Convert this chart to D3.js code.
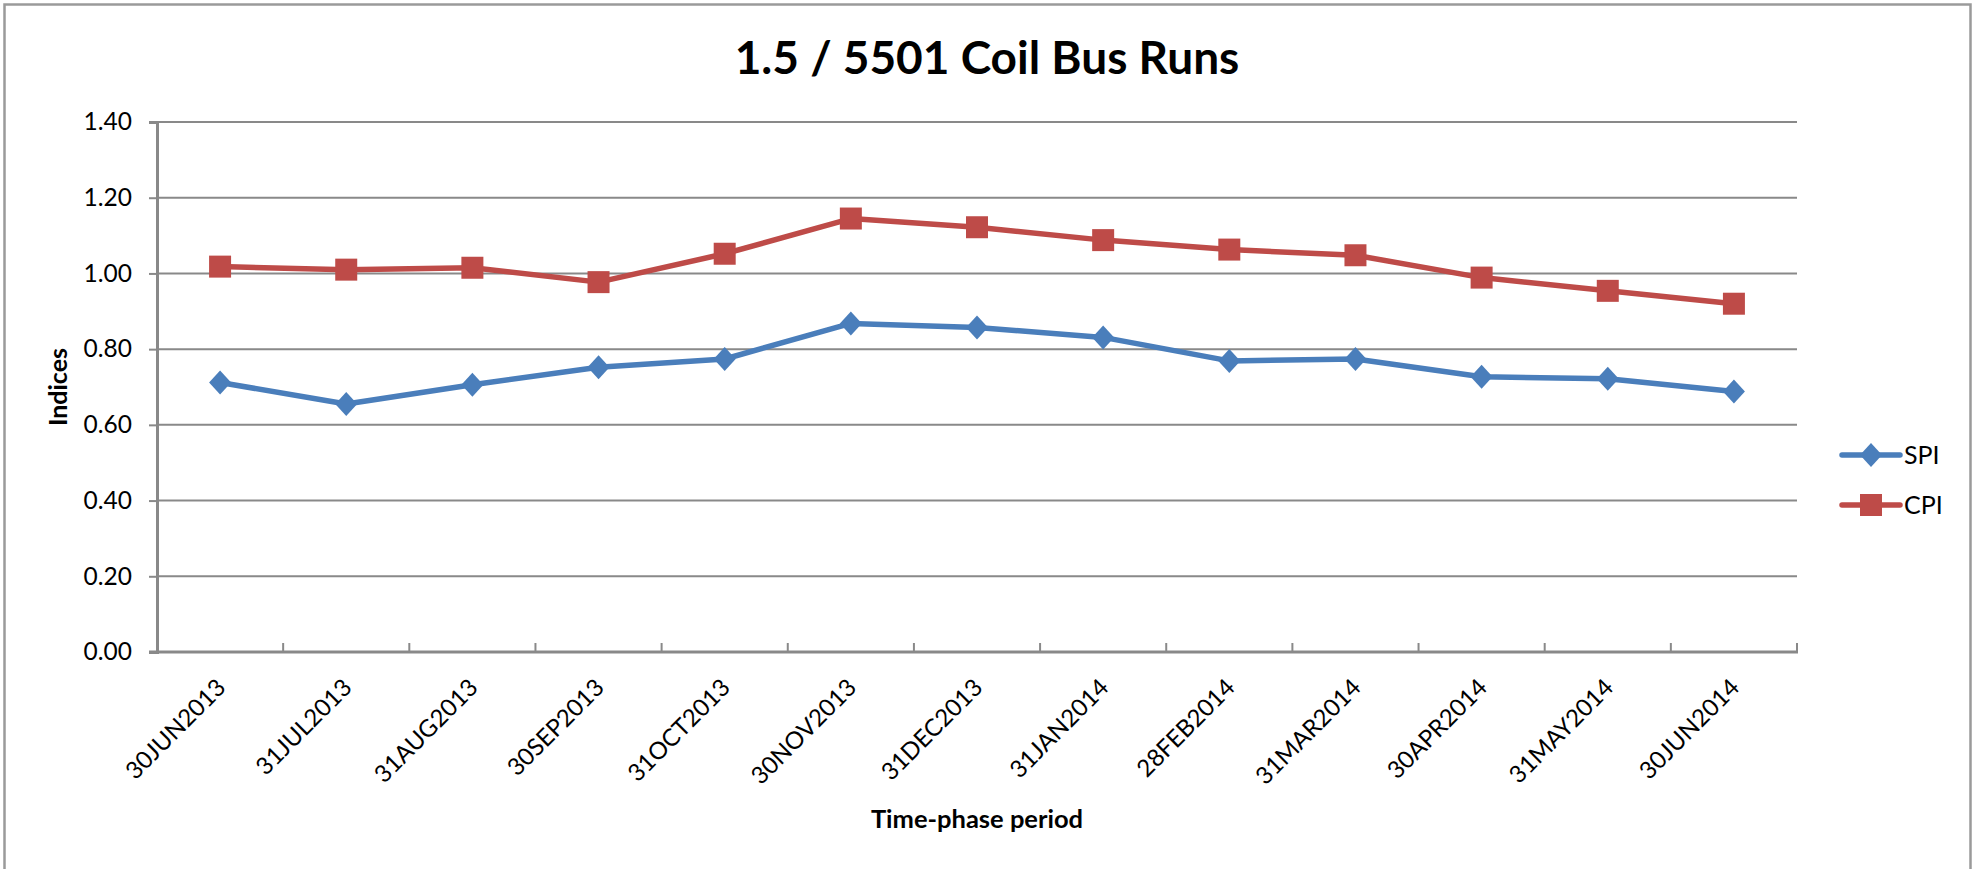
<!DOCTYPE html>
<html>
<head>
<meta charset="utf-8">
<script src="https://cdn.jsdelivr.net/npm/d3@7"></script>
<style>
  html, body { margin: 0; padding: 0; background: #fff; }
  svg { display: block; font-family: Lato, "Open Sans", sans-serif; }
</style>
</head>
<body>
<svg id="chart" width="1973" height="869"></svg>
<script>
// Reporting periods (month-end dates)
const periods = ["30JUN2013", "31JUL2013", "31AUG2013", "30SEP2013", "31OCT2013", "30NOV2013",
  "31DEC2013", "31JAN2014", "28FEB2014", "31MAR2014", "30APR2014", "31MAY2014", "30JUN2014"];

// Schedule Performance Index
const spiValues = [0.712, 0.655, 0.706, 0.752, 0.774, 0.868, 0.857, 0.831, 0.769, 0.774, 0.727, 0.722, 0.688];

// Cost Performance Index
const cpiValues = [1.018, 1.010, 1.015, 0.977, 1.052, 1.145, 1.122, 1.088, 1.063, 1.048, 0.989, 0.954, 0.920];

// Y axis ticks
const yTicks = [0, 0.2, 0.4, 0.6, 0.8, 1.0, 1.2, 1.4];

const seriesNames = ["SPI", "CPI"];

const svg = d3.select("#chart");
const plot = { left: 157, right: 1797, top: 122, bottom: 652 };
const gridColor = "#898989";
const colors = { SPI: "#4a7ebb", CPI: "#be4b48" };

// outer chart frame
svg.append("rect")
  .attr("x", 4.5).attr("y", 4.5)
  .attr("width", 1966).attr("height", 920)
  .attr("fill", "#fff")
  .attr("stroke", "#9a9a9a").attr("stroke-width", 2.5);

const x = d3.scaleBand().domain(periods).range([plot.left, plot.right]).padding(0);
const y = d3.scaleLinear().domain([0, 1.4]).range([plot.bottom, plot.top]);
const cx = d => x(d) + x.bandwidth() / 2;

// horizontal gridlines
svg.append("g")
  .selectAll("line")
  .data(yTicks.filter(t => t > 0))
  .join("line")
  .attr("x1", plot.left).attr("x2", plot.right)
  .attr("y1", d => y(d)).attr("y2", d => y(d))
  .attr("stroke", gridColor).attr("stroke-width", 2);

// y axis
const yAxis = svg.append("g")
  .attr("transform", `translate(${plot.left},0)`)
  .call(d3.axisLeft(y).tickValues(yTicks).tickFormat(d3.format(".2f")).tickSize(8).tickPadding(17));
yAxis.select(".domain").attr("stroke", gridColor).attr("stroke-width", 3);
yAxis.selectAll(".tick line").attr("stroke", gridColor).attr("stroke-width", 2);
yAxis.selectAll(".tick text")
  .attr("font-size", 24.5).attr("fill", "#000")
  .style("font-family", "Lato, sans-serif");

// x axis: ticks sit between categories, pointing inward
const boundaries = periods.map(p => x(p)).concat([plot.right]);
const xAxis = svg.append("g");
xAxis.selectAll("line.tick")
  .data(boundaries)
  .join("line")
  .attr("class", "tick")
  .attr("x1", d => d).attr("x2", d => d)
  .attr("y1", plot.bottom).attr("y2", plot.bottom - 9)
  .attr("stroke", gridColor).attr("stroke-width", 2);
xAxis.append("line")
  .attr("x1", plot.left - 8).attr("x2", plot.right + 1)
  .attr("y1", plot.bottom).attr("y2", plot.bottom)
  .attr("stroke", gridColor).attr("stroke-width", 3);

xAxis.selectAll("text")
  .data(periods)
  .join("text")
  .attr("transform", d => `translate(${cx(d) + 7},${plot.bottom + 37}) rotate(-45)`)
  .attr("text-anchor", "end")
  .attr("font-size", 24)
  .attr("fill", "#000")
  .text(d => d);

// series lines and markers
const series = [
  { name: "SPI", values: spiValues },
  { name: "CPI", values: cpiValues }
];

const line = d3.line().x(d => cx(d.p)).y(d => y(d.v));

function markerPath(s) {
  if (s.name === "SPI") {
    // diamond marker
    return "M0,-12L11,0L0,12L-11,0Z";
  }
  // square marker
  return "M-11,-11H11V11H-11Z";
}

series.forEach(s => {
  const pts = periods.map((p, i) => ({ p, v: s.values[i] }));
  svg.append("path")
    .datum(pts)
    .attr("fill", "none")
    .attr("stroke", colors[s.name])
    .attr("stroke-width", 5.5)
    .attr("stroke-linejoin", "round")
    .attr("stroke-linecap", "round")
    .attr("d", line);
  svg.append("g")
    .selectAll("path")
    .data(pts)
    .join("path")
    .attr("transform", d => `translate(${cx(d.p)},${y(d.v)})`)
    .attr("d", markerPath(s))
    .attr("fill", colors[s.name]);
});

// title
svg.append("text")
  .attr("x", 987).attr("y", 74)
  .attr("text-anchor", "middle")
  .attr("font-size", 46).attr("font-weight", "bold")
  .attr("fill", "#000")
  .text("1.5 / 5501 Coil Bus Runs");

// axis titles
svg.append("text")
  .attr("transform", "translate(67,387) rotate(-90)")
  .attr("text-anchor", "middle")
  .attr("font-size", 25).attr("font-weight", "bold")
  .attr("fill", "#000")
  .text("Indices");

svg.append("text")
  .attr("x", 977).attr("y", 828)
  .attr("text-anchor", "middle")
  .attr("font-size", 25.5).attr("font-weight", "bold")
  .attr("fill", "#000")
  .text("Time-phase period");

// legend
const legend = svg.append("g");
const legendY = { SPI: 455, CPI: 505 };
series.forEach(s => {
  const g = legend.append("g").attr("transform", `translate(0,${legendY[s.name]})`);
  g.append("line")
    .attr("x1", 1842).attr("x2", 1900)
    .attr("stroke", colors[s.name]).attr("stroke-width", 5.5)
    .attr("stroke-linecap", "round");
  g.append("path")
    .attr("transform", "translate(1871,0)")
    .attr("d", markerPath(s))
    .attr("fill", colors[s.name]);
  g.append("text")
    .attr("x", 1904).attr("y", 0)
    .attr("dy", "0.36em")
    .attr("font-size", 25)
    .attr("fill", "#000")
    .text(s.name);
});
</script>
</body>
</html>
